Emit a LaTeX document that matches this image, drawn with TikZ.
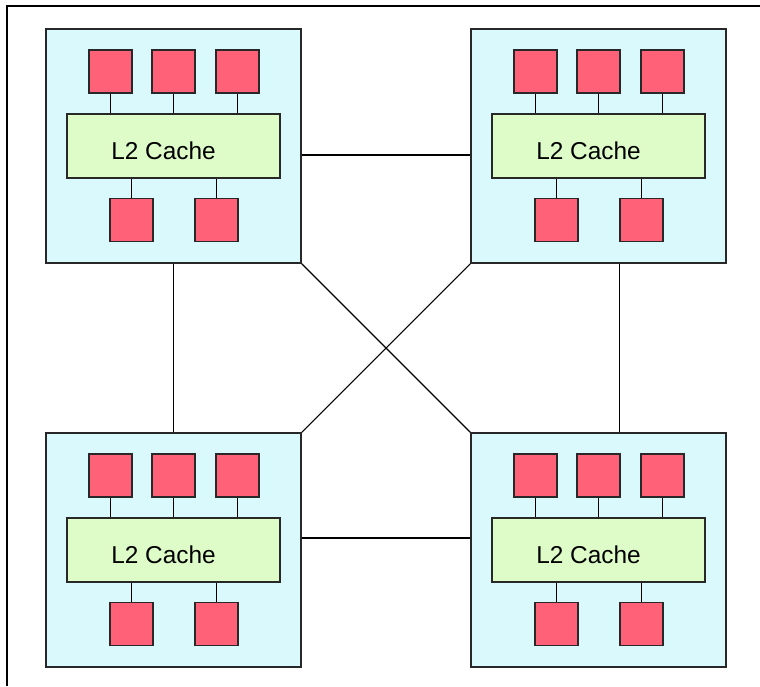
\documentclass[tikz,border=0pt]{standalone}
\usepackage{fontspec}
\setmainfont{Liberation Sans}
\definecolor{nodefill}{RGB}{217,249,252}
\definecolor{corefill}{RGB}{255,97,120}
\definecolor{cachefill}{RGB}{221,252,200}
\definecolor{edge}{RGB}{40,40,40}
\tikzset{
  chip/.style={draw=edge, line width=1pt, fill=nodefill, rectangle, inner sep=0pt,
    minimum width=255*0.75pt, minimum height=234*0.75pt},
  core/.style={draw=edge, line width=0.9pt, fill=corefill, rectangle, inner sep=0pt,
    minimum width=43*0.75pt, minimum height=43*0.75pt},
  cache/.style={draw=edge, line width=0.9pt, fill=cachefill, rectangle, inner sep=0pt,
    minimum width=213*0.75pt, minimum height=64*0.75pt},
  label/.style={font=\fontsize{18.3pt}{21pt}\selectfont, inner sep=0pt, anchor=base west},
  wire/.style={draw=black, line width=0.8pt}
}
\begin{document}
\begin{tikzpicture}[x=0.75pt, y=-0.75pt]
  \useasboundingbox (0,0) rectangle (760,686);
  % outer frame (top and left edges)
  \draw[line width=0.9pt] (760,6) -- (7,6) -- (7,686);
  % four processor chips
  \foreach \n/\ox/\oy in {tl/46/29, tr/471/29, bl/46/433, br/471/433} {
    \begin{scope}[shift={(\ox,\oy)}]
      \node[chip] (\n) at (127.5,117) {};
      \node[core] (\n-p1) at (64.5,42.5) {};
      \node[core] (\n-p2) at (127.5,42.5) {};
      \node[core] (\n-p3) at (191.5,42.5) {};
      \node[cache] (\n-c) at (127.5,117) {};
      \node[label] (\n-t) at (65,130) {L2 Cache};
      \node[core] (\n-q1) at (85.5,191) {};
      \node[core] (\n-q2) at (170.5,191) {};
      \foreach \p in {p1,p2,p3}
        \draw[wire] (\n-\p.south) -- (\n-\p.south |- \n-c.north);
      \foreach \q in {q1,q2}
        \draw[wire] (\n-\q.north) -- (\n-\q.north |- \n-c.south);
    \end{scope}
  }
  % chip-to-chip links
  \draw[wire] ([yshift=-6.75pt]tl.east) -- ([yshift=-6.75pt]tr.west);
  \draw[wire] ([yshift=9pt]bl.east) -- ([yshift=9pt]br.west);
  \draw[wire] (tl.south) -- (bl.north);
  \draw[wire] ([xshift=15.75pt]tr.south) -- ([xshift=15.75pt]br.north);
  \draw[wire] (tl.south east) -- (br.north west);
  \draw[wire] (tr.south west) -- (bl.north east);
\end{tikzpicture}
\end{document}
